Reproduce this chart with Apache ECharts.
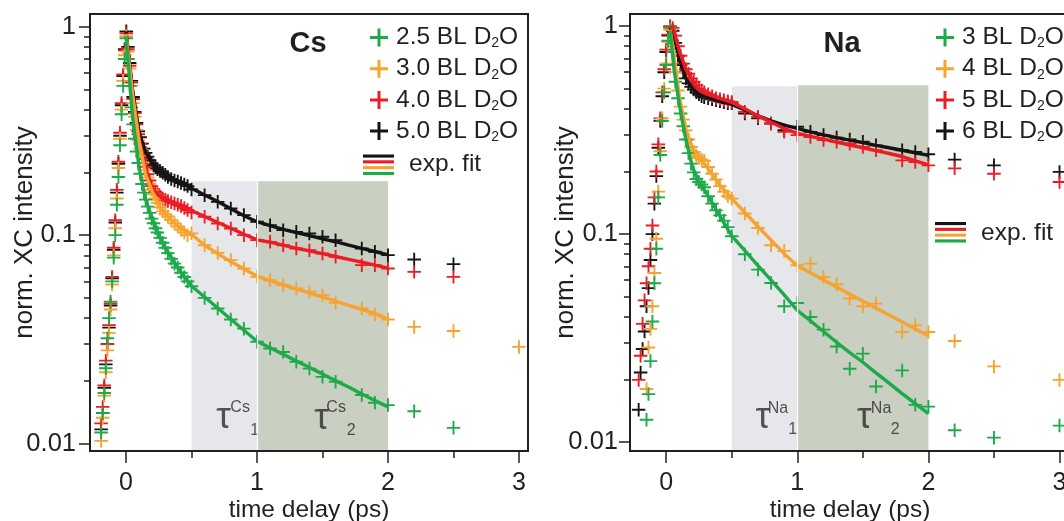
<!DOCTYPE html>
<html><head><meta charset="utf-8">
<script src="https://cdn.jsdelivr.net/npm/echarts@6/dist/echarts.min.js"></script>
<style>html,body{margin:0;padding:0;background:#fff}#c{width:1064px;height:521px}</style>
</head><body><div id="c"></div>
<script>
// ---------------- DATA ----------------
const csNames = ['2.5 BL D2O', '3.0 BL D2O', '4.0 BL D2O', '5.0 BL D2O']; // green, orange, red, black
const naNames = ['3 BL D2O', '4 BL D2O', '5 BL D2O', '6 BL D2O'];
const xTickValues = [0, 1, 2, 3];
const xMinorTickValues = [0.5, 1.5, 2.5];
const yTickValues = [0.01, 0.1, 1];
const yTickLabels = ['0.01', '0.1', '1'];

// Cs panel
const csRiseX = [-0.19, -0.178, -0.166, -0.154, -0.142, -0.13, -0.118, -0.106, -0.094, -0.082, -0.07, -0.058, -0.046, -0.034, -0.022, -0.01, 0.002];
const csRiseBlack = [0.0117, 0.014, 0.0185, 0.024, 0.03, 0.036, 0.046, 0.062, 0.085, 0.115, 0.16, 0.22, 0.3, 0.42, 0.58, 0.78, 0.95];
const csRiseRed = [0.0125, 0.015, 0.019, 0.025, 0.03, 0.037, 0.047, 0.063, 0.087, 0.118, 0.165, 0.225, 0.31, 0.43, 0.59, 0.77, 0.93];
const csRiseOrange = [0.0103, 0.0133, 0.017, 0.022, 0.028, 0.034, 0.044, 0.058, 0.08, 0.108, 0.15, 0.21, 0.29, 0.4, 0.55, 0.73, 0.9];
const csRiseGreen = [0.0113, 0.014, 0.0175, 0.023, 0.032, 0.04, 0.048, 0.06, 0.078, 0.1, 0.14, 0.19, 0.27, 0.38, 0.52, 0.7, 0.88];

const csDecayX = [0.015, 0.028, 0.041, 0.054, 0.067, 0.08, 0.094, 0.108, 0.122, 0.136, 0.15, 0.165, 0.18, 0.195, 0.21, 0.225, 0.24, 0.26, 0.28, 0.3, 0.32, 0.345, 0.37, 0.395, 0.42, 0.445, 0.47];
const csDecayBlack = [0.8, 0.67, 0.55, 0.46, 0.39, 0.345, 0.315, 0.295, 0.275, 0.26, 0.248, 0.238, 0.229, 0.221, 0.216, 0.211, 0.207, 0.203, 0.199, 0.195, 0.19, 0.186, 0.183, 0.181, 0.178, 0.175, 0.172];
const csDecayRed = [0.78, 0.65, 0.54, 0.45, 0.385, 0.34, 0.305, 0.275, 0.252, 0.232, 0.213, 0.196, 0.183, 0.172, 0.166, 0.161, 0.157, 0.153, 0.15, 0.148, 0.146, 0.144, 0.142, 0.14, 0.138, 0.135, 0.132];
const csDecayOrange = [0.76, 0.63, 0.52, 0.43, 0.37, 0.32, 0.285, 0.26, 0.24, 0.223, 0.205, 0.189, 0.176, 0.165, 0.157, 0.15, 0.143, 0.136, 0.13, 0.126, 0.123, 0.118, 0.114, 0.11, 0.106, 0.103, 0.1];
const csDecayGreen = [0.7, 0.52, 0.41, 0.34, 0.29, 0.252, 0.222, 0.197, 0.176, 0.16, 0.148, 0.137, 0.128, 0.12, 0.114, 0.108, 0.103, 0.097, 0.092, 0.087, 0.082, 0.077, 0.073, 0.07, 0.066, 0.063, 0.06];

const csTailX = [0.5, 0.6, 0.7, 0.8, 0.9, 1.0, 1.1, 1.2, 1.3, 1.4, 1.5, 1.6, 1.8, 1.9, 2.0, 2.2, 2.5, 3.0];
const csTailBlack = [0.1657, 0.1556, 0.1445, 0.1343, 0.1248, 0.1159, 0.1117, 0.1057, 0.1037, 0.1019, 0.0982, 0.0946, 0.0863, 0.0832, 0.0802, 0.0764, 0.0726, null];
const csTailRed = [0.1285, 0.1225, 0.1138, 0.1077, 0.100, 0.0946, 0.0929, 0.0895, 0.0863, 0.0847, 0.0817, 0.0787, 0.0718, 0.0718, 0.0692, 0.0667, 0.0631, null];
const csTailOrange = [0.102, 0.0895, 0.0822, 0.0759, 0.0692, 0.0631, 0.0608, 0.0575, 0.0555, 0.0535, 0.0515, 0.0473, 0.0445, 0.0416, 0.0394, 0.0363, 0.0347, 0.0291];
const csTailGreen = [0.0569, 0.050, 0.0445, 0.0394, 0.0356, 0.0308, 0.0286, 0.0275, 0.0247, 0.0229, 0.0209, 0.0198, 0.0171, 0.0157, 0.0153, 0.0143, 0.0119, null];

const csFitX = [0, 0.05, 0.1, 0.15, 0.2, 0.25, 0.3, 0.4, 0.5, 0.6, 0.7, 0.8, 0.9, 1.0, 1.1, 1.2, 1.3, 1.4, 1.5, 1.6, 1.7, 1.8, 1.9, 2.0];
const csFitBlack = [0.95, 0.50, 0.31, 0.25, 0.22, 0.205, 0.195, 0.181, 0.168, 0.156, 0.145, 0.134, 0.124, 0.116, 0.111, 0.1065, 0.103, 0.0995, 0.096, 0.093, 0.0895, 0.0865, 0.0835, 0.0805];
const csFitRed = [0.93, 0.48, 0.29, 0.21, 0.168, 0.155, 0.147, 0.139, 0.131, 0.123, 0.115, 0.108, 0.101, 0.095, 0.0925, 0.0895, 0.0865, 0.084, 0.0815, 0.079, 0.0765, 0.0742, 0.0718, 0.0695];
const csFitOrange = [0.92, 0.47, 0.28, 0.195, 0.162, 0.14, 0.126, 0.11, 0.101, 0.0895, 0.0815, 0.0745, 0.069, 0.0635, 0.0605, 0.0578, 0.0553, 0.0528, 0.0505, 0.0482, 0.046, 0.044, 0.042, 0.0395];
const csFitGreen = [0.9, 0.37, 0.21, 0.148, 0.12, 0.1, 0.087, 0.069, 0.057, 0.0505, 0.0447, 0.0395, 0.035, 0.031, 0.0288, 0.0268, 0.0249, 0.0232, 0.0216, 0.02, 0.0187, 0.0173, 0.0161, 0.015];

// Na panel
const naRiseX = [-0.21, -0.195, -0.18, -0.165, -0.15, -0.135, -0.12, -0.105, -0.09, -0.075, -0.06, -0.045, -0.03, -0.015, 0, 0.015, 0.03];
const naRiseBlack = [0.0143, 0.0216, 0.028, 0.034, 0.045, 0.055, 0.075, 0.1, 0.14, 0.19, 0.26, 0.35, 0.46, 0.6, 0.75, 0.9, 0.99];
const naRiseRed = [0.0199, 0.026, 0.037, 0.048, 0.058, 0.07, 0.085, 0.11, 0.15, 0.2, 0.27, 0.36, 0.48, 0.62, 0.77, 0.91, 1.0];
const naRiseOrange = [null, null, null, null, 0.018, 0.0285, 0.035, 0.045, 0.065, 0.095, 0.16, 0.25, 0.36, 0.5, 0.66, 0.84, 0.96];
const naRiseGreen = [null, null, null, null, 0.0128, 0.017, 0.0245, 0.038, 0.058, 0.085, 0.15, 0.24, 0.35, 0.48, 0.65, 0.85, 0.98];

const naDecayX = [0.05, 0.07, 0.09, 0.11, 0.13, 0.15, 0.17, 0.19, 0.21, 0.23, 0.25, 0.27, 0.29, 0.32, 0.35, 0.38, 0.41, 0.44, 0.47];
const naDecayBlack = [0.95, 0.83, 0.72, 0.65, 0.6, 0.56, 0.53, 0.51, 0.495, 0.48, 0.47, 0.46, 0.455, 0.45, 0.445, 0.44, 0.435, 0.43, 0.425];
const naDecayRed = [0.98, 0.9, 0.8, 0.72, 0.66, 0.62, 0.59, 0.56, 0.54, 0.52, 0.5, 0.49, 0.48, 0.47, 0.46, 0.45, 0.445, 0.44, 0.435];
const naDecayOrange = [0.8, 0.6, 0.49, 0.41, 0.355, 0.315, 0.285, 0.262, 0.248, 0.238, 0.232, 0.228, 0.225, 0.21, 0.195, 0.183, 0.17, 0.16, 0.152];
const naDecayGreen = [0.75, 0.54, 0.45, 0.38, 0.33, 0.285, 0.245, 0.218, 0.198, 0.184, 0.178, 0.173, 0.168, 0.152, 0.14, 0.13, 0.123, 0.116, 0.108];

const naTailX = [0.5, 0.6, 0.7, 0.8, 0.9, 1.0, 1.1, 1.2, 1.3, 1.4, 1.5, 1.6, 1.8, 1.9, 2.0, 2.2, 2.5, 3.0];
const naTailBlack = [0.425, 0.38, 0.36, 0.34, 0.316, 0.328, 0.31, 0.299, 0.291, 0.285, 0.278, 0.267, 0.253, 0.248, 0.242, 0.228, 0.214, 0.199];
const naTailRed = [0.432, 0.387, 0.366, 0.34, 0.31, 0.299, 0.293, 0.283, 0.278, 0.272, 0.262, 0.253, 0.226, 0.222, 0.214, 0.207, 0.195, 0.178];
const naTailOrange = [0.148, 0.1255, 0.107, 0.0883, 0.083, 0.0708, 0.0721, 0.0622, 0.0573, 0.049, 0.045, 0.0463, 0.0338, 0.0364, 0.0338, 0.0306, 0.0231, 0.0199];
const naTailGreen = [0.0976, 0.080, 0.0675, 0.0582, 0.045, 0.0466, 0.0399, 0.0347, 0.0288, 0.0225, 0.0266, 0.0185, 0.0221, 0.0151, 0.0148, 0.0114, 0.0105, 0.0120];

const naFitX = [0.03, 0.06, 0.1, 0.15, 0.2, 0.25, 0.3, 0.4, 0.5, 0.6, 0.7, 0.8, 0.9, 1.0, 1.1, 1.2, 1.3, 1.4, 1.5, 1.6, 1.7, 1.8, 1.9, 2.0];
const naFitBlack = [0.99, 0.9, 0.7, 0.56, 0.5, 0.47, 0.455, 0.437, 0.42, 0.395, 0.37, 0.35, 0.334, 0.322, 0.31, 0.3, 0.291, 0.283, 0.275, 0.267, 0.26, 0.253, 0.246, 0.239];
const naFitRed = [1.0, 0.95, 0.76, 0.62, 0.55, 0.5, 0.475, 0.45, 0.43, 0.4, 0.37, 0.345, 0.322, 0.305, 0.295, 0.286, 0.277, 0.268, 0.26, 0.252, 0.244, 0.236, 0.225, 0.215];
const naFitOrange = [0.96, 0.72, 0.46, 0.32, 0.26, 0.232, 0.215, 0.175, 0.148, 0.127, 0.1087, 0.0935, 0.0805, 0.0705, 0.0651, 0.0601, 0.0556, 0.0514, 0.0476, 0.0441, 0.0408, 0.0378, 0.035, 0.0324];
const naFitGreen = [0.95, 0.62, 0.42, 0.285, 0.21, 0.178, 0.16, 0.125, 0.098, 0.0832, 0.0706, 0.06, 0.051, 0.043, 0.0383, 0.034, 0.0302, 0.0269, 0.0242, 0.0215, 0.0192, 0.0171, 0.0153, 0.0137];

// shaded fit windows (x ranges and top value)
const windowLightX = [0.5, 1.0];
const windowDarkX = [1.0, 2.0];
const csWindowTop = [0.1816, 0.1816];
const naWindowTop = [0.514, 0.52];

// ---------------- STYLE / LAYOUT ----------------
const GREEN = '#1ea94b', ORANGE = '#f7a32f', RED = '#ec1c24', BLACK = '#141414';
const TXT = '#231f20';
const FONT = '"Liberation Sans", Arial, Helvetica, sans-serif';
const L10 = Math.log10;
const csYRange = [-2.0355, 0.061];
const naYRange = [-2.043, 0.058];
const xRangeCs = [-0.275, 3.069];
const xRangeNa = [-0.276, 3.08];

const PLUS = 'path://M5.6,0h1.8v5.6h5.6v1.8h-5.6v5.6h-1.8v-5.6h-5.6v-1.8h5.6z';
const PLUS_LEG = 'path://M7.5,0h3v7.5h7.5v3h-7.5v7.5h-3v-7.5h-7.5v-3h7.5z';

function pairs(xs, ys) {
  const out = [];
  xs.forEach((x, i) => { if (ys[i] != null) out.push([x, L10(ys[i])]); });
  return out;
}
function scatter(name, color, ax, xs, ys) {
  return {type: 'scatter', name, xAxisIndex: ax, yAxisIndex: ax, symbol: PLUS, symbolSize: 13.5,
    itemStyle: {color, opacity: 1}, data: pairs(xs, ys), silent: true, z: 2};
}
function fit(name, color, ax, xs, ys) {
  return {type: 'line', name, xAxisIndex: ax, yAxisIndex: ax, showSymbol: false, symbol: 'none',
    lineStyle: {color, width: 3.4}, itemStyle: {color}, data: pairs(xs, ys), silent: true, z: 3};
}
function minorLogTicks(range) {
  const v = [];
  for (let e = -3; e <= 0; e++) for (let m = 2; m <= 9; m++) {
    const t = e + L10(m);
    if (t > range[0] && t < range[1]) v.push(t);
  }
  return v;
}
function xAxes(grid, range) {
  return [
    {gridIndex: grid, type: 'value', min: range[0], max: range[1], position: 'bottom', z: 10,
     axisLine: {show: true, onZero: false, lineStyle: {color: TXT, width: 2}},
     axisTick: {show: true, length: 12, customValues: xTickValues, lineStyle: {color: TXT, width: 1.5}},
     axisLabel: {show: true, customValues: xTickValues, formatter: v => String(Math.round(v)), fontSize: 25, color: TXT, margin: 20, fontFamily: FONT},
     splitLine: {show: false},
     name: 'time delay (ps)', nameLocation: 'middle', nameGap: 47, nameMoveOverlap: false,
     nameTextStyle: {fontSize: 24.5, color: TXT, fontFamily: FONT}},
    {gridIndex: grid, type: 'value', min: range[0], max: range[1], position: 'bottom', z: 10,
     axisLine: {show: false, onZero: false},
     axisTick: {show: true, length: 7, customValues: xMinorTickValues, lineStyle: {color: TXT, width: 1.5}},
     axisLabel: {show: false}, splitLine: {show: false}}
  ];
}
function yAxes(grid, range, margin, gap) {
  const major = yTickValues.map(L10);
  return [
    {gridIndex: grid, type: 'value', min: range[0], max: range[1], position: 'left', z: 10,
     axisLine: {show: true, onZero: false, lineStyle: {color: TXT, width: 2}},
     axisTick: {show: true, length: 11, customValues: major, lineStyle: {color: TXT, width: 1.5}},
     axisLabel: {show: true, customValues: major,
       formatter: v => yTickLabels[major.findIndex(m => Math.abs(m - v) < 1e-6)] || '',
       fontSize: 25.5, color: TXT, margin, fontFamily: FONT},
     splitLine: {show: false},
     name: 'norm. XC intensity', nameLocation: 'middle', nameGap: gap, nameMoveOverlap: false,
     nameTextStyle: {fontSize: 26, color: TXT, fontFamily: FONT}},
    {gridIndex: grid, type: 'value', min: range[0], max: range[1], position: 'left', z: 10,
     axisLine: {show: false, onZero: false},
     axisTick: {show: true, length: 6, customValues: minorLogTicks(range), lineStyle: {color: TXT, width: 1.5}},
     axisLabel: {show: false}, splitLine: {show: false}}
  ];
}
function windows(ax, range, top) {
  const yb = range[0];
  return {type: 'line', xAxisIndex: ax, yAxisIndex: ax, data: [[windowLightX[0], yb]], showSymbol: false,
    silent: true, z: 1, lineStyle: {width: 0},
    markArea: {silent: true, data: [
      [{xAxis: windowLightX[0], yAxis: yb, itemStyle: {color: '#e5e7ea'}}, {xAxis: windowLightX[1], yAxis: L10(top[0])}],
      [{xAxis: windowDarkX[0], yAxis: yb, itemStyle: {color: '#c9cfc1'}}, {xAxis: windowDarkX[1], yAxis: L10(top[1])}]
    ]},
    markLine: {silent: true, symbol: ['none', 'none'], label: {show: false},
      lineStyle: {color: '#ffffff', width: 1.3, type: 'solid'},
      data: [[{coord: [windowDarkX[0], yb]}, {coord: [windowDarkX[0], L10(Math.max(top[0], top[1]))]}]]}
  };
}
function tauLabels(ax, items) {
  return {type: 'scatter', xAxisIndex: ax, yAxisIndex: ax, silent: true, symbolSize: 1, z: 4,
    itemStyle: {color: 'rgba(0,0,0,0)'},
    data: items.map(a => ({value: [a[1], L10(a[2])],
      label: {show: true, position: 'inside', formatter: a[0], fontSize: a[3], color: '#2a2a2a', fontFamily: FONT,
              align: 'center', verticalAlign: 'middle'}}))};
}
// annotation positions (text, x, y, font size)
const csTau = [['τ', 0.745, 0.01324, 37], ['Cs', 0.871, 0.01486, 16], ['1', 0.982, 0.01159, 16],
               ['τ', 1.493, 0.01315, 37], ['Cs', 1.604, 0.01486, 16], ['2', 1.719, 0.01159, 16]];
const naTau = [['τ', 0.737, 0.01309, 37], ['Na', 0.852, 0.01452, 16], ['1', 0.965, 0.01153, 16],
               ['τ', 1.511, 0.01309, 37], ['Na', 1.639, 0.01452, 16], ['2', 1.746, 0.01153, 16]];

const legendRich = {
  t: {fontSize: 24.5, lineHeight: 26, color: TXT, fontFamily: FONT},
  s: {fontSize: 14, lineHeight: 8, verticalAlign: 'bottom', color: TXT, fontFamily: FONT}
};
const legFmt = n => '{t|' + n.slice(0, -3) + 'D}{s|2}{t|O}';
function legend(names, left) {
  return {left, top: 20, orient: 'vertical', itemWidth: 18, itemHeight: 18, itemGap: 5.7,
    icon: PLUS_LEG, selectedMode: false, data: names, formatter: legFmt,
    textStyle: {rich: legendRich, padding: [0, 0, 0, 3], color: TXT}};
}
function fitKey(x, y, tx, ty) {
  const cols = [BLACK, RED, ORANGE, GREEN];
  const els = cols.map((c, i) => ({type: 'rect', shape: {x, y: y + i * 5.8, width: 31, height: 3.1}, style: {fill: c}, z: 20}));
  els.push({type: 'text', x: tx, y: ty, z: 20, style: {text: 'exp. fit', fill: TXT, font: '24.5px ' + FONT, align: 'left', verticalAlign: 'middle'}});
  return els;
}

const series = [
  windows(0, csYRange, csWindowTop),
  scatter(csNames[3], BLACK, 0, csRiseX.concat(csDecayX, csTailX), csRiseBlack.concat(csDecayBlack, csTailBlack)),
  scatter(csNames[2], RED, 0, csRiseX.concat(csDecayX, csTailX), csRiseRed.concat(csDecayRed, csTailRed)),
  scatter(csNames[1], ORANGE, 0, csRiseX.concat(csDecayX, csTailX), csRiseOrange.concat(csDecayOrange, csTailOrange)),
  scatter(csNames[0], GREEN, 0, csRiseX.concat(csDecayX, csTailX), csRiseGreen.concat(csDecayGreen, csTailGreen)),
  fit('fit Cs 5.0', BLACK, 0, csFitX, csFitBlack),
  fit('fit Cs 4.0', RED, 0, csFitX, csFitRed),
  fit('fit Cs 3.0', ORANGE, 0, csFitX, csFitOrange),
  fit('fit Cs 2.5', GREEN, 0, csFitX, csFitGreen),
  tauLabels(0, csTau),

  windows(2, naYRange, naWindowTop),
  scatter(naNames[3], BLACK, 2, naRiseX.concat(naDecayX, naTailX), naRiseBlack.concat(naDecayBlack, naTailBlack)),
  scatter(naNames[2], RED, 2, naRiseX.concat(naDecayX, naTailX), naRiseRed.concat(naDecayRed, naTailRed)),
  scatter(naNames[1], ORANGE, 2, naRiseX.concat(naDecayX, naTailX), naRiseOrange.concat(naDecayOrange, naTailOrange)),
  scatter(naNames[0], GREEN, 2, naRiseX.concat(naDecayX, naTailX), naRiseGreen.concat(naDecayGreen, naTailGreen)),
  fit('fit Na 6', BLACK, 2, naFitX, naFitBlack),
  fit('fit Na 5', RED, 2, naFitX, naFitRed),
  fit('fit Na 4', ORANGE, 2, naFitX, naFitOrange),
  fit('fit Na 3', GREEN, 2, naFitX, naFitGreen),
  tauLabels(2, naTau)
];

const option = {
  animation: false,
  backgroundColor: '#ffffff',
  grid: [
    {left: 90, top: 14, width: 438, height: 437, show: true, borderColor: TXT, borderWidth: 2,
     containLabel: false, outerBoundsMode: 'none'},
    {left: 630, top: 14, width: 440, height: 437, show: true, borderColor: TXT, borderWidth: 2,
     containLabel: false, outerBoundsMode: 'none'}
  ],
  xAxis: xAxes(0, xRangeCs).concat(xAxes(1, xRangeNa)),
  yAxis: yAxes(0, csYRange, 14, 52).concat(yAxes(1, naYRange, 12, 51)),
  legend: [legend(csNames, 365), legend(naNames, 931)],
  graphic: [
    {type: 'text', x: 308, y: 44, z: 20, style: {text: 'Cs', fill: TXT, font: 'bold 29px ' + FONT, align: 'center', verticalAlign: 'middle'}},
    {type: 'text', x: 842, y: 44, z: 20, style: {text: 'Na', fill: TXT, font: 'bold 29px ' + FONT, align: 'center', verticalAlign: 'middle'}}
  ].concat(fitKey(363, 154.5, 409, 164.5), fitKey(935, 222, 981, 233)),
  series
};
const chart = echarts.init(document.getElementById('c'), null, {renderer: 'canvas'});
chart.setOption(option);
</script>
</body></html>
